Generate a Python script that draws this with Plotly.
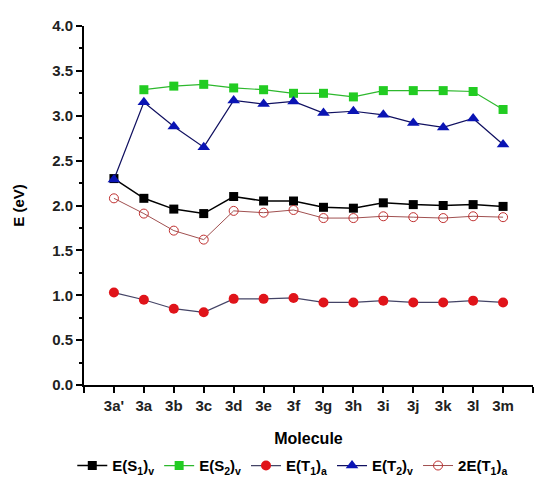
import plotly.graph_objects as go

categories = ["3a'", "3a", "3b", "3c", "3d", "3e", "3f", "3g", "3h", "3i", "3j", "3k", "3l", "3m"]
E_S1_v = [2.30, 2.08, 1.96, 1.91, 2.10, 2.05, 2.05, 1.98, 1.97, 2.03, 2.01, 2.00, 2.01, 1.99]
E_S2_v = [None, 3.29, 3.33, 3.35, 3.31, 3.29, 3.25, 3.25, 3.21, 3.28, 3.28, 3.28, 3.27, 3.07]
E_T1_a = [1.03, 0.95, 0.85, 0.81, 0.96, 0.96, 0.97, 0.92, 0.92, 0.94, 0.92, 0.92, 0.94, 0.92]
E_T2_v = [2.29, 3.15, 2.88, 2.65, 3.17, 3.13, 3.16, 3.03, 3.05, 3.01, 2.92, 2.87, 2.97, 2.68]
E2_T1_a = [2.08, 1.91, 1.72, 1.62, 1.94, 1.92, 1.95, 1.86, 1.86, 1.88, 1.87, 1.86, 1.88, 1.87]

xs = list(range(len(categories)))
font = "Liberation Sans, Arial, sans-serif"

fig = go.Figure()
fig.add_trace(go.Scatter(x=xs, y=E_S1_v, name="E(S<sub>1</sub>)<sub>v</sub>", mode="lines+markers",
                         line=dict(color="black", width=1.5),
                         marker=dict(symbol="square", size=9, color="black")))
fig.add_trace(go.Scatter(x=xs, y=E_S2_v, name="E(S<sub>2</sub>)<sub>v</sub>", mode="lines+markers",
                         line=dict(color="#2db82d", width=1.2),
                         marker=dict(symbol="square", size=9, color="#22cc22")))
fig.add_trace(go.Scatter(x=xs, y=E_T1_a, name="E(T<sub>1</sub>)<sub>a</sub>", mode="lines+markers",
                         line=dict(color="#444466", width=1.2),
                         marker=dict(symbol="circle", size=10, color="#e0141a")))
fig.add_trace(go.Scatter(x=xs, y=E_T2_v, name="E(T<sub>2</sub>)<sub>v</sub>", mode="lines+markers",
                         line=dict(color="#101060", width=1.2),
                         marker=dict(symbol="triangle-up", size=11, color="#0a14b4")))
fig.add_trace(go.Scatter(x=xs, y=E2_T1_a, name="2E(T<sub>1</sub>)<sub>a</sub>", mode="lines+markers",
                         line=dict(color="#a05050", width=1),
                         marker=dict(symbol="circle-open", size=9, color="#c03030", line=dict(width=1))))

tickvals = [-1] + xs + [len(categories)]
ticktext = [""] + categories + [""]

fig.update_layout(
    width=556, height=482,
    margin=dict(l=84, r=23, t=26, b=97, autoexpand=False),
    paper_bgcolor="white", plot_bgcolor="white",
    font=dict(family=font, size=14, color="black", weight="bold"),
    showlegend=True,
    legend=dict(orientation="h", x=0.465, y=-0.225, xanchor="center", yanchor="middle",
                font=dict(family=font, size=15, color="black", weight="bold"),
                itemwidth=30, tracegroupgap=0),
    xaxis=dict(range=[-1, len(categories)], tickmode="array", tickvals=tickvals, ticktext=ticktext,
               automargin=False,
               showline=True, linecolor="black", linewidth=2, ticks="outside", ticklen=6,
               tickwidth=2, tickcolor="black", showgrid=False, zeroline=False,
               tickfont=dict(family=font, size=15, color="#222", weight="bold"),
               title=dict(text="Molecule", font=dict(family=font, size=16, weight="bold"), standoff=20)),
    yaxis=dict(range=[0, 4], dtick=0.5, tickformat=".1f", showline=True, linecolor="black",
               automargin=False,
               linewidth=2, ticks="outside", ticklen=6, tickwidth=2, tickcolor="black",
               showgrid=False, zeroline=False,
               minor=dict(ticks="outside", ticklen=3, tickwidth=1.5, tickcolor="black", dtick=0.25),
               tickfont=dict(family=font, size=15, color="#222", weight="bold"),
               title=dict(text="E (eV)", font=dict(family=font, size=15, weight="bold"), standoff=24)),
)

fig.write_html("out.html", config={"displayModeBar": False},
               post_script="document.body.style.margin='0';document.body.style.overflow='hidden';")
